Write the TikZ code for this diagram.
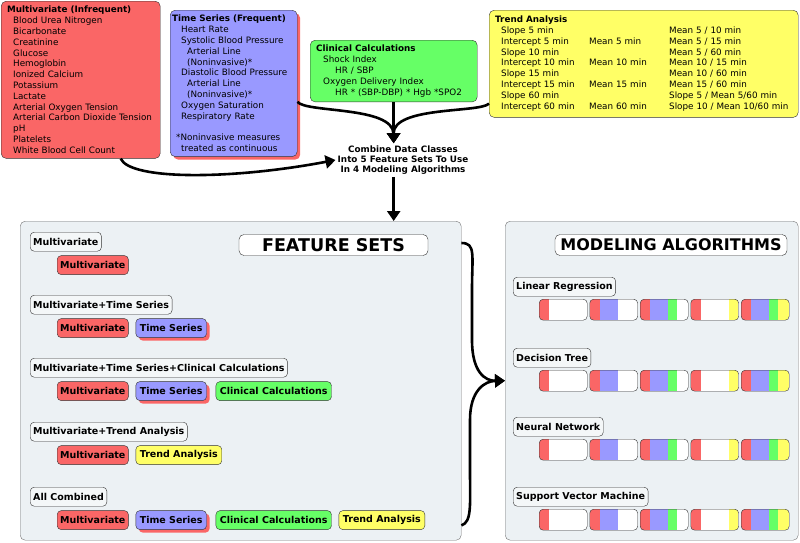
\documentclass[tikz,border=0pt]{standalone}
\usepackage{fontspec}
\setmainfont{DejaVu Sans}
\usetikzlibrary{arrows.meta,positioning,shadows,calc}

\definecolor{cM}{RGB}{250,102,102}
\definecolor{cT}{RGB}{153,153,255}
\definecolor{cC}{RGB}{102,255,102}
\definecolor{cA}{RGB}{255,255,102}
\definecolor{panelbg}{RGB}{236,241,244}

% one coloured slice of an algorithm bar
\newcommand{\segfill}[3]{\fill[sharp corners, #1] ([xshift=#2]path picture bounding box.north west) rectangle ([xshift=#3]path picture bounding box.south west);}

\begin{document}
\begin{tikzpicture}[x=1pt, y=-1pt,
  srcbox/.style={draw=black!80, rounded corners=5pt, anchor=north west, align=left, inner ysep=4pt, font=\fontsize{8.8}{10.8}\selectfont},
  panel/.style={draw=black!55, fill=panelbg, rounded corners=5pt, anchor=north west, inner sep=0pt},
  paneltitle/.style={draw=black!80, fill=white, rounded corners=5pt, minimum height=21pt, inner sep=0pt, font=\bfseries\fontsize{16}{16}\selectfont},
  setlabel/.style={draw=black!80, fill=white!40!panelbg, rounded corners=4pt, anchor=north west, minimum height=19pt, inner xsep=3pt, inner ysep=0pt, font=\bfseries\fontsize{9.5}{10}\selectfont},
  tagM/.style={setlabel, fill=cM},
  tagT/.style={setlabel, fill=cT, inner xsep=4pt, drop shadow={fill=cM, opacity=1, shadow xshift=3pt, shadow yshift=-3pt}},
  tagC/.style={setlabel, fill=cC, inner xsep=4pt},
  tagA/.style={setlabel, fill=cA, inner xsep=4pt},
  algbar/.style={draw=black!80, fill=white, rounded corners=4pt, anchor=north west, minimum width=48pt, minimum height=21pt, inner sep=0pt},
  barM/.style={algbar, path picture={\segfill{cM}{0pt}{10pt}}},
  barMT/.style={algbar, path picture={\segfill{cM}{0pt}{10pt}\segfill{cT}{10pt}{28pt}}},
  barMTC/.style={algbar, path picture={\segfill{cM}{0pt}{10pt}\segfill{cT}{10pt}{28pt}\segfill{cC}{28pt}{37pt}}},
  barMA/.style={algbar, path picture={\segfill{cM}{0pt}{10pt}\segfill{cA}{38pt}{48pt}}},
  barAll/.style={algbar, path picture={\segfill{cM}{0pt}{10pt}\segfill{cT}{10pt}{28pt}\segfill{cC}{28pt}{37pt}\segfill{cA}{37pt}{48pt}}},
  flow/.style={line width=2.6pt, -{Triangle[length=10pt, width=13pt]}},
]
\useasboundingbox (0,0) rectangle (800,542);

% data classes
\node[srcbox, fill=cM, text width=147pt, inner xsep=6pt, inner ysep=5pt] (mv) at (1,1) {\textbf{Multivariate (Infrequent)}\\
\hspace*{6pt}Blood Urea Nitrogen\\
\hspace*{6pt}Bicarbonate\\
\hspace*{6pt}Creatinine\\
\hspace*{6pt}Glucose\\
\hspace*{6pt}Hemoglobin\\
\hspace*{6pt}Ionized Calcium\\
\hspace*{6pt}Potassium\\
\hspace*{6pt}Lactate\\
\hspace*{6pt}Arterial Oxygen Tension\\
\hspace*{6pt}Arterial Carbon Dioxide Tension\\
\hspace*{6pt}pH\\
\hspace*{6pt}Platelets\\
\hspace*{6pt}White Blood Cell Count};

\node[srcbox, fill=cT, text width=123pt, inner xsep=2pt, inner ysep=5pt, drop shadow={fill=cM, opacity=1, shadow xshift=3pt, shadow yshift=-3pt}] (ts) at (170,10) {\textbf{Time Series (Frequent)}\\
\hspace*{9pt}Heart Rate\\
\hspace*{9pt}Systolic Blood Pressure\\
\hspace*{15pt}Arterial Line\\
\hspace*{15pt}(Noninvasive)*\\
\hspace*{9pt}Diastolic Blood Pressure\\
\hspace*{15pt}Arterial Line\\
\hspace*{15pt}(Noninvasive)*\\
\hspace*{9pt}Oxygen Saturation\\
\hspace*{9pt}Respiratory Rate\\[10.8pt]
\hspace*{4pt}*Noninvasive measures\\
\hspace*{9pt}treated as continuous};

\node[srcbox, fill=cC, text width=155pt, inner xsep=6pt, inner ysep=5pt] (cc) at (310,40) {\textbf{Clinical Calculations}\\
\hspace*{7pt}Shock Index\\
\hspace*{19pt}HR / SBP\\
\hspace*{7pt}Oxygen Delivery Index\\
\hspace*{19pt}HR * (SBP-DBP) * Hgb *SPO2};

\node[srcbox, fill=cA, text width=297pt, inner xsep=6pt, inner ysep=5pt] (ta) at (489,10) {%
\begin{tabular}{@{\hspace{6pt}}p{88pt}@{}p{80pt}@{}l@{}}
\multicolumn{3}{@{}l@{}}{\textbf{Trend Analysis}}\\
Slope 5 min & & Mean 5 / 10 min\\
Intercept 5 min & Mean 5 min & Mean 5 / 15 min\\
Slope 10 min & & Mean 5 / 60 min\\
Intercept 10 min & Mean 10 min & Mean 10 / 15 min\\
Slope 15 min & & Mean 10 / 60 min\\
Intercept 15 min & Mean 15 min & Mean 15 / 60 min\\
Slope 60 min & & Slope 5 / Mean 5/60 min\\
Intercept 60 min & Mean 60 min & Slope 10 / Mean 10/60 min
\end{tabular}};

\node[align=center, inner sep=2pt, font=\bfseries\fontsize{8.8}{10.3}\selectfont] (comb) at (403,160) {Combine Data Classes\\Into 5 Feature Sets To Use\\In 4 Modeling Algorithms};

% feature sets
\node[panel, minimum width=441pt, minimum height=319pt] (fs) at (20,221) {};
\node[paneltitle, minimum width=189pt, font=\bfseries\fontsize{17.5}{17.5}\selectfont] (fstitle) at (333.5,245) {FEATURE SETS};

\node[setlabel] (s1) at (30,232) {Multivariate};
\node[tagM] (s1m) at ([xshift=27pt,yshift=-4pt]s1.south west) {Multivariate};

\node[setlabel] (s2) at (30,295) {Multivariate+Time Series};
\node[tagM] (s2m) at ([xshift=27pt,yshift=-4pt]s2.south west) {Multivariate};
\node[tagT, right=7pt of s2m] (s2t) {Time Series};

\node[setlabel] (s3) at (30,358) {Multivariate+Time Series+Clinical Calculations};
\node[tagM] (s3m) at ([xshift=27pt,yshift=-4pt]s3.south west) {Multivariate};
\node[tagT, right=7pt of s3m] (s3t) {Time Series};
\node[tagC, right=9pt of s3t] (s3c) {Clinical Calculations};

\node[setlabel] (s4) at (30,422) {Multivariate+Trend Analysis};
\node[tagM] (s4m) at ([xshift=27pt,yshift=-4pt]s4.south west) {Multivariate};
\node[tagA, right=7pt of s4m] (s4a) {Trend Analysis};

\node[setlabel] (s5) at (30,487) {All Combined};
\node[tagM] (s5m) at ([xshift=27pt,yshift=-4pt]s5.south west) {Multivariate};
\node[tagT, right=7pt of s5m] (s5t) {Time Series};
\node[tagC, right=9pt of s5t] (s5c) {Clinical Calculations};
\node[tagA, right=7pt of s5c] (s5a) {Trend Analysis};

% modeling algorithms
\node[panel, minimum width=293pt, minimum height=319pt] (ma) at (505,221) {};
\node[paneltitle, minimum width=232pt] (matitle) at (671,245) {MODELING ALGORITHMS};

\foreach \alg/\txt/\ya in {lr/Linear Regression/277, dt/Decision Tree/348, nn/Neural Network/417, svm/Support Vector Machine/487} {
  \node[setlabel] (\alg) at (513,\ya) {\txt};
  \foreach \st [count=\i] in {barM,barMT,barMTC,barMA,barAll}
    \node[\st] (\alg-\i) at ({539+50.5*(\i-1)},{\ya+22}) {};
}

% connectors
\draw[flow] (cc.south) -- (cc.south |- comb.north);
\draw[flow] ([yshift=55pt]ts.south east) .. controls (306,113) and (393,106) .. (cc.south |- comb.north);
\draw[flow] ([yshift=14pt]ta.south west) .. controls (480,113) and (393,106) .. (cc.south |- comb.north);
\draw[flow] ([xshift=40pt]mv.south) .. controls (130,180) and (230,180) .. (comb.west);
\draw[flow] (comb.south -| cc.south) -- (cc.south |- fs.north);
\draw[flow] ([yshift=-22pt]fs.north east) .. controls (476,243) and (472,255) .. (472,290) -- (472,340) .. controls (472,372) and (485,381) .. (ma.west);
\draw[flow] ([yshift=15pt]fs.south east) .. controls (472,522) and (470,505) .. (470,470) -- (470,420) .. controls (470,390) and (485,381) .. (ma.west);
\end{tikzpicture}
\end{document}
